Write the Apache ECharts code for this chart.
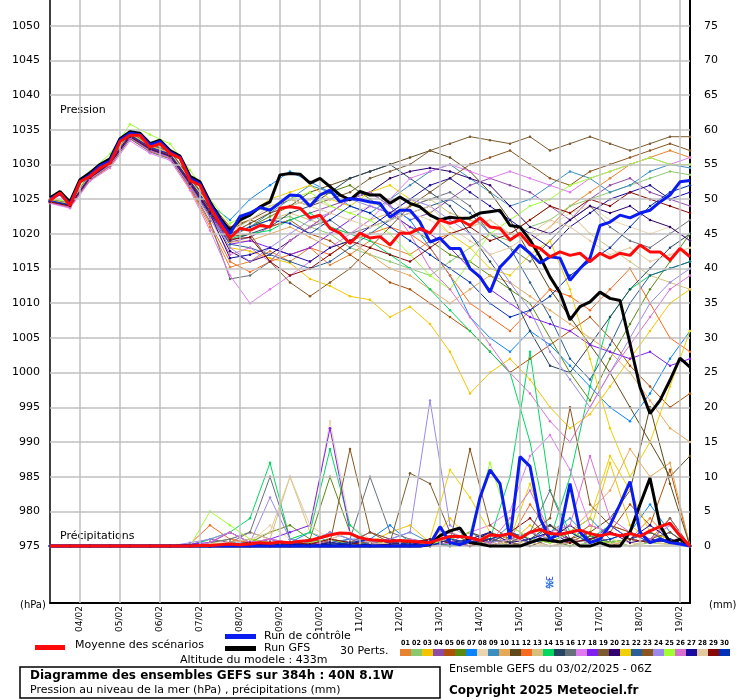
<!DOCTYPE html>
<html><head><meta charset="utf-8">
<script src="https://cdn.jsdelivr.net/npm/echarts@6/dist/echarts.min.js"></script>
<style>html,body{margin:0;padding:0;background:#fff}#c{width:740px;height:700px}</style>
</head><body><div id="c"></div>
<script>
// ---- DATA ----
const dateLabels = ["04/02","05/02","06/02","07/02","08/02","09/02","10/02","11/02","12/02","13/02","14/02","15/02","16/02","17/02","18/02","19/02"];
const dateHours = [18,42,66,90,114,138,162,186,210,234,258,282,306,330,354,378];
const pressTicks = [975,980,985,990,995,1000,1005,1010,1015,1020,1025,1030,1035,1040,1045,1050];
const precipTicks = [0,5,10,15,20,25,30,35,40,45,50,55,60,65,70,75];
const pertColors = ["#e8822e","#8bc96e","#f2c500","#8e4ca8","#b0500a","#5b8a10","#0a84ff","#e9d6b0","#3a8fc0","#e6a95a","#5e4a1a","#f86a20","#d4c07a","#00d860","#264560","#667078","#e07af0","#8020f0","#7a5a2e","#300070","#f0d000","#2a5f9a","#8a5520","#9a88ea","#a0ff30","#d870d0","#1a0aa0","#e2c9a0","#880808","#0030b8"];

// 6-hourly (65 values)
const meanPress = [1024.8,1025.9,1024.1,1027.5,1028.3,1029.5,1030.2,1033.3,1034.2,1034.2,1032.5,1033,1031.6,1030.9,1027.7,1027,1023.9,1021.5,1019.4,1020.8,1020.5,1021.2,1021,1023.7,1023.9,1023.7,1022.3,1022.7,1020.8,1020.1,1018.6,1020.1,1019.4,1019.6,1018.4,1020.1,1020.1,1020.8,1020.1,1022,1021.5,1022,1021.2,1022.3,1021,1020.8,1019.1,1020.1,1018.4,1017.9,1016.7,1017.4,1016.9,1017.2,1016,1017.2,1016.5,1017.2,1016.9,1018.4,1017.4,1017.4,1016.2,1017.9,1016.7];
const ctrlPress = [1025,1025.8,1024.3,1027.5,1028.5,1029.8,1030.5,1033.5,1034.5,1034.3,1032.8,1033.3,1031.8,1031,1028,1027.2,1024.3,1022,1020,1022.5,1023,1023.8,1023.4,1024.5,1025.6,1025.5,1024,1025.6,1026.3,1024.6,1025.1,1024.9,1024.6,1024.4,1022.4,1023.4,1023.4,1021.7,1018.8,1019.4,1017.9,1017.9,1015,1013.8,1011.6,1015.2,1016.7,1018.4,1017.2,1015.8,1016.7,1016.5,1013.3,1015,1016.5,1021.2,1021.7,1022.7,1022.3,1023,1023.4,1024.6,1025.6,1027.5,1027.7];
const gfsPress = [1025.2,1026.1,1024.6,1027.8,1028.8,1030,1030.8,1033.7,1034.7,1034.5,1033,1033.5,1032,1031.2,1028.3,1027.5,1024.6,1022.3,1020.5,1022,1022.7,1023.9,1024.6,1028.5,1028.7,1028.6,1027.3,1028,1026.8,1025.6,1024.9,1026.1,1025.6,1025.6,1024.4,1025.3,1024.4,1023.9,1022.7,1022,1022.4,1022.2,1022.3,1023,1023.2,1023.4,1021.2,1021,1019.1,1016.7,1013.8,1011.5,1007.6,1009.5,1010.2,1011.6,1010.7,1010.4,1004.2,997.9,994.1,996,998.9,1002.1,1000.8];
const meanPrecip = [0,0,0,0,0,0,0,0,0,0,0,0,0,0,0,0.1,0.1,0.2,0.3,0.2,0.3,0.5,0.4,0.6,0.5,0.7,0.8,1.2,1.6,1.9,1.8,1.2,0.9,0.8,0.7,0.8,0.7,0.6,0.5,1.0,1.4,1.4,1.2,0.8,1.6,1.5,1.8,1.1,2.0,2.4,1.8,1.7,2.0,2.3,1.8,1.5,1.8,1.5,1.8,1.4,2.2,2.8,3.3,1.5,0];
const ctrlPrecip = [0,0,0,0,0,0,0,0,0,0,0,0,0,0,0,0,0,0,0,0,0,0,0,0,0,0,0,0,0,0,0,0,0,0,0,0,0,0,0.3,2.8,0.5,0.2,0.8,7,11,9,1,12.9,11.5,4,1,2,9,2,0.5,1,3,6,9.3,2,0.5,1,0.5,0.3,0];
const gfsPrecip = [0,0,0,0,0,0,0,0,0,0,0,0,0,0,0,0,0,0,0,0,0,0,0,0,0,0,0,0,0,0,0,0,0,0,0,0,0,0,0.2,1.5,2.2,2.6,0.5,0.3,0,0,0,0,0.5,1,0.8,0.6,1,0,0,0.5,0,0,2,6,9.8,3,0.5,1,0];

// 12-hourly perturbations (33 values each)
const pertPress = [
[1024.5,1023.8,1027.8,1029.8,1033.8,1032,1031,1026.5,1021,1015.2,1016,1017.5,1016,1018,1015.5,1017,1019,1018,1017,1019,1020,1021,1022,1020,1019,1021,1024,1026,1028,1030,1031,1032,1031],
[1024.6,1024,1028.2,1030.4,1034.5,1032.8,1031.6,1027.4,1023.2,1019.8,1021,1022,1022.5,1021,1020,1018,1017,1016,1015,1014,1016,1018,1020,1019,1021,1022,1024,1025,1026,1027,1028,1029,1028.5],
[1024.9,1024.3,1028,1030,1033.9,1032.2,1031.2,1027,1022.5,1018,1017.5,1016.5,1015.8,1013.5,1012.5,1011,1010.5,1008,1009.5,1007,1003,997,1000,1002,999,995,992,994,998,1002,1006,1010,1012],
[1024.7,1024,1028.1,1030.1,1034,1032.3,1031.4,1027.3,1022.8,1018.8,1019.5,1021,1022,1023,1024,1025,1026,1024,1022,1023,1025,1027,1028,1027,1026,1024,1022,1025,1027,1028,1026,1025,1024],
[1024.8,1024.2,1028.5,1030.5,1034.4,1032.6,1031.8,1028,1024.5,1021,1022,1021,1022,1020,1019,1017,1015,1013,1012,1010,1008,1006,1003,1000,1002,1004,1006,1008,1005,1001,998,995,997],
[1024.6,1024.1,1028.3,1030.3,1034.3,1032.4,1031.5,1027.6,1023.5,1019.5,1021,1022.5,1024,1025,1026,1027,1025,1023,1021,1019,1017,1016,1014,1012,1010,1005,1000,996,1002,1007,1012,1016,1020],
[1025,1024.5,1028.7,1030.6,1034.6,1032.8,1031.9,1028,1024.2,1022,1025,1027,1029,1027.5,1026,1025,1026,1024,1022,1018,1014,1008,1005,1003,1006,1004,1001,998,995,993,997,1002,1006],
[1024.9,1024.4,1028.6,1030.7,1034.7,1033,1032,1028.2,1024.4,1020.5,1022,1023,1024,1025,1024,1023,1024,1025,1023,1022,1020,1021,1022,1020,1019,1021,1023,1024,1022,1021,1020,1021,1019],
[1024.7,1024,1028.2,1030.2,1034.2,1032.4,1031.4,1027.5,1023.6,1019.6,1021,1023,1025,1027,1026,1024,1023,1025,1027,1029,1030,1028,1026,1024,1025,1027,1029,1028,1026,1027,1029,1030,1029.5],
[1024.6,1023.9,1027.9,1029.9,1033.9,1032.1,1031.1,1027.1,1022.9,1018.8,1019,1020,1021,1019.5,1018,1019,1017,1015,1014,1012,1010,1012,1014,1013,1011,1009,1007,1005,1003,1000,996,992,990],
[1024.9,1024.3,1028.4,1030.4,1034.4,1032.7,1031.8,1027.9,1024,1020,1021.5,1023,1024,1026,1027,1028,1029,1030,1031,1032,1031,1029,1026,1022,1017,1012,1008,1004,1000,995,990,985,988],
[1024.5,1023.8,1027.7,1029.7,1033.7,1031.9,1030.9,1026.6,1021.5,1016,1014.5,1016,1017,1018,1017,1019,1020,1021,1020,1018,1014,1010,1008,1006,1009,1012,1011,1009,1012,1015,1010,1005,1003],
[1024.8,1024.2,1028.3,1030.3,1034.3,1032.5,1031.6,1027.7,1023.8,1019.8,1021,1022,1023,1022,1021,1020,1022,1023,1024,1025,1023,1022,1021,1020,1022,1024,1023,1020,1018,1016,1014,1013,1012],
[1024.7,1024.1,1028.2,1030.2,1034.1,1032.3,1031.4,1027.4,1023.4,1019.3,1020,1020.5,1022,1023,1021,1020,1019,1017,1015,1012,1009,1006,1003,1000,990,976,985,998,1008,1012,1014,1015,1016],
[1024.6,1024,1028,1030,1034,1032.2,1031.2,1027.2,1023,1019,1020,1021,1023,1024,1026,1028,1029,1030,1028,1026,1024,1020,1016,1012,1006,1001,1000,1004,1008,1012,1015,1018,1020],
[1024.5,1023.9,1027.8,1029.8,1033.7,1031.8,1030.8,1026.8,1021.8,1013.5,1014,1016,1019,1021,1022,1020,1021,1022,1024,1025,1026,1024,1020,1018,1016,1019,1022,1024,1021,1019,1018,1020,1022],
[1024.4,1023.7,1027.6,1029.5,1033.4,1031.6,1030.6,1026.3,1020.5,1014,1010,1012,1014,1016,1018,1020,1022,1025,1028,1029,1030,1029,1028,1029,1028,1027,1026,1028,1029,1030,1031,1030,1031],
[1024.8,1024.2,1028.3,1030.3,1034.3,1032.4,1031.5,1027.5,1023.3,1018.5,1019,1018,1017,1018,1020,1022,1024,1023,1021,1020,1018,1015,1012,1010,1008,1007,1006,1004,1003,1002,1003,1001,1002],
[1024.9,1024.4,1028.6,1030.6,1034.6,1032.9,1032,1028.1,1024.3,1020.6,1022,1023.5,1025,1024,1025,1026,1028,1029,1030,1032,1033,1034,1033.5,1033,1034,1032,1033,1034,1033,1032,1033,1034,1034],
[1024.7,1024.1,1028.2,1030.2,1034.2,1032.3,1031.3,1027.3,1023.1,1017.5,1016,1017,1019,1021,1023,1025,1026,1028,1029,1029.5,1029,1028,1027,1024,1021,1020,1022,1024,1023,1024,1022,1021,1019],
[1024.9,1024.3,1028.5,1030.5,1034.5,1032.7,1031.7,1027.8,1024,1020.2,1023,1025,1026,1027,1025,1024,1026,1027,1025,1023,1020,1018,1015,1014,1017,1019,1012,1002,992,985,990,998,1006],
[1024.6,1024,1028,1030,1033.9,1032.1,1031.1,1027,1022.6,1018.5,1018,1017,1016,1015,1016,1018,1020,1022,1023,1024,1025,1023,1020,1018,1013,1008,1002,999,1004,1010,1014,1015,1016],
[1024.8,1024.2,1028.4,1030.4,1034.3,1032.6,1031.6,1027.6,1023.6,1019.6,1020,1016,1013,1011,1013,1015,1018,1021,1024,1026,1028,1030,1031,1032,1030,1028,1027,1029,1030,1031,1032,1033,1032],
[1024.7,1024.1,1028.2,1030.1,1034.1,1032.3,1031.3,1027.2,1022.8,1018,1016,1018,1020,1022,1023,1025,1024,1023,1025,1024,1022,1020,1017,1013,1009,1003,999,995,1000,1005,1010,1013,1015],
[1025.1,1024.6,1029,1031.5,1035.8,1034.3,1033,1029.2,1025,1021.5,1023,1024,1025,1026,1024,1023,1022,1020,1017,1014,1012,1016,1020,1022,1024,1025,1027,1028,1029,1030,1031,1030,1030],
[1024.5,1023.9,1027.9,1029.9,1033.9,1032,1031,1026.9,1022.3,1017,1018,1016,1019,1021,1023,1025,1026,1024,1020,1015,1012,1008,1004,1000,997,993,990,995,1000,1004,1008,1012,1014],
[1024.7,1024.1,1028.1,1030.1,1034,1032.2,1031.2,1027.2,1022.9,1016.5,1017,1018,1017,1016,1018,1019,1021,1023,1025,1027,1028,1026,1024,1022,1020,1018,1021,1023,1025,1026,1027,1025,1026],
[1024.8,1024.3,1028.4,1030.4,1034.4,1032.6,1031.7,1027.8,1023.9,1020.2,1022,1024,1025,1024,1023,1022,1021,1022,1023,1024,1021,1019,1017,1018,1020,1022,1021,1019,1017,1018,1016,1017,1018],
[1024.6,1024,1028.1,1030.2,1034.1,1032.3,1031.3,1027.4,1023.2,1019.2,1019.5,1016,1014,1015,1017,1019,1018,1017,1016,1018,1020,1021,1019,1020,1022,1024,1023,1025,1024,1026,1025,1024,1023],
[1024.8,1024.2,1028.3,1030.4,1034.3,1032.5,1031.5,1027.6,1023.7,1019.9,1021,1022,1021.5,1020,1022,1024,1023,1021,1019,1017,1015,1013,1010,1008,1009,1011,1014,1016,1018,1021,1024,1026,1027]
];
const pertPrecip = [
[0,0,0,0,0,0,0,0,0.5,2,0.5,1,0.3,0,0.5,0.2,0,1,0,0.5,1,0,2,0,1,3,0.5,2,0,1,4,1,0],
[0,0,0,0,0,0,0,0,0.3,0.5,1,0.5,0,0.3,0,0.5,0,0,0.5,1,2,0.5,1,0,0.5,1,0,0.5,1,0,0.5,0.3,0],
[0,0,0,0,0,0,0,0,0,0,0.5,0,0.3,0,1,0,0.5,2,3,0.5,4,1,2,0.5,3,1,0.5,2,12,3,1,0.5,0],
[0,0,0,0,0,0,0,0.2,1,0.5,2,1,0,0.5,0,0.3,1,0,0.5,0.5,1,0,0.5,2,1,0,0.5,1,0.5,1,2,0.5,0],
[0,0,0,0,0,0,0,0,0,0.5,0,0.3,0.5,0,0.5,1,0,0.5,0,1,0.5,2,0.5,1,2,0.5,1,3,2,6,3,11,0],
[0,0,0,0,0,0,0,0,0.5,1,0.5,2,3,1,10,2,0.5,0,0.5,1,0,0.5,1,0.5,2,1,0,1.5,0.5,1,2,0.5,0],
[0,0,0,0,0,0,0,0,0,0.5,0.3,1,0.5,2,0.5,1,1,3,0.5,0,1,0.5,2,1,0.5,3,2,4,1,2,6,2,0],
[0,0,0,0,0,0,0,0,0.3,1,0.5,3,1,2,18,3,1,0.5,0.3,1,0,0.5,1,0.5,0,1,0.5,0,1,0.5,0,0.3,0],
[0,0,0,0,0,0,0,0,0,0.2,0.5,0,0.3,1,0.5,0,0.5,1,2,0.5,1,2,0.5,3,1,2,4,1,3,1,0.5,2,0],
[0,0,0,0,0,0,0,0,0,0.3,0,0.5,0,0.3,1,0.5,0,0.5,1,0,0.5,1,2,0.5,1,3,2,5,8,14,10,12,0],
[0,0,0,0,0,0,0,0,0,0.5,0,0.3,0.5,0,1,0.5,0.5,1,0.3,0.5,1,2,1,0.5,2,3,1,2,4,8,20,9,0],
[0,0,0,0,0,0,0,0.3,3,1,0.5,0.5,0,1,0.5,0,1,0.5,0,0.5,1,0.5,0,1,6,2,1,0.5,3,2,1,4,0],
[0,0,0,0,0,0,0,0,0.5,1,2,1,10,2,1,0.5,0,1,0.5,0,0.5,1,0.3,0.5,1,0,0.5,1,0.5,0,1,0.5,0],
[0,0,0,0,0,0,0,0,1,2,4,12,1,2,14,3,0.5,0,0.5,1,0,0.5,1,10,28,8,2,1,3,1,0.5,1,0],
[0,0,0,0,0,0,0,0,0,0,0.3,0,0.5,0,0.3,0.5,0,0.3,0,0.5,0.3,1,0.5,2,1,3,1,0.5,2,1,0.5,1,0],
[0,0,0,0,0,0,0,0,0.5,1,2,10,1,0.5,2,1,10,2,1,0.5,0,0.5,1,0.5,2,8,1,0.5,2,1,0.5,4,0],
[0,0,0,0,0,0,0,0,0,0.3,0.5,1,0.5,0.3,1,0.5,2,1,0.5,0,0.5,2,3,5,13,16,11,3,2,1,0.5,1,0],
[0,0,0,0,0,0,0,0.3,0.5,2,0.5,1,2,3,17,2,0.5,1,0,0.5,1,0.5,0,1,0.5,2,1,0.5,3,1,0.5,1,0],
[0,0,0,0,0,0,0,0,0,0.3,0,0.5,0.3,0,1,0.5,2,0.5,10.5,9,2,0.5,1,0.5,0,1,0.5,2,0.5,1,2,1,0],
[0,0,0,0,0,0,0,0,0,0.3,0,0.5,0,0.3,0.5,0,0.3,1,0.5,0,1,0.5,2,1,0.5,1,3,1,2,0.5,1,0.5,0],
[0,0,0,0,0,0,0,0,0,0,0.3,0,0.5,0,0.3,0.5,1,0,0.5,1,11,7,2,1,9,0.5,2,4,13,8,2,1,0],
[0,0,0,0,0,0,0,0,0,0.3,0.5,0,0.3,0.5,1,0,0.5,0.3,1,0.5,0,1,0.5,2,1,0.5,2,1,0.5,1,2,0.5,0],
[0,0,0,0,0,0,0,0,0,0.5,1,0.5,0,1,0.5,14,2,1,0.5,1,0.5,14,3,1,2,4,20,6,3,2,1,2,0],
[0,0,0,0,0,0,0,0.5,1,2,0.5,7,1,0.5,2,1,0.5,1,2,21,3,1,0.5,1,2,1,0.5,1,2,1,0.5,0.3,0],
[0,0,0,0,0,0,0,0,5,3,1,0.5,0,0.5,1,0.3,0,0.5,1,0.3,1,2,12,3,1,0.5,2,1,0.5,1,0.5,0.3,0],
[0,0,0,0,0,0,0,0,0.5,2,0.5,1,0.5,0,1,2,0.5,0,1,0.5,2,1,0.5,4,8,2,3,13,4,2,1,3,0],
[0,0,0,0,0,0,0,0,0,0.3,0,0.5,0.3,0,0.5,0.3,1,0.5,0,1,0.5,1,2,0.5,1,2,0.5,1,2,1,3,1,0],
[0,0,0,0,0,0,0,0,0.3,0.5,1,2,10,3,1,2,0.5,0.3,0,0.5,1,0.5,0,1,0.5,0,1,0.5,0.3,1,0.5,0.3,0],
[0,0,0,0,0,0,0,0,0,0.3,0.5,0,0.5,0.3,1,0.5,0,0.3,0.5,1,0.5,0,1,2,4,1,0.5,1,2,1,0.5,1,0],
[0,0,0,0,0,0,0,0,0,0.2,0.3,0,0.5,0,0.3,0.5,1,0.5,0.3,0,1,0.5,1,2,0.5,1,2,0.5,1,2,0.5,1,0]
];

// ---- CHART ----
const FONT = 'DejaVu Sans';
const six = a => a.map((v,i)=>[i*6, v]);
const twelve = a => a.map((v,i)=>[i*12, v]);
const series = [];
series.push({type:'line', data:[], silent:true,
  markLine:{silent:true, symbol:'none', label:{show:false}, animation:false,
    lineStyle:{color:'#c0c0c0', width:1.5, type:'solid'},
    data: dateHours.map(h=>({xAxis:h})).concat(pressTicks.map(p=>({yAxis:p})))}});
pertPress.forEach((arr,k)=>{
  series.push({type:'line', data:twelve(arr), yAxisIndex:0, symbol:'circle', symbolSize:2.5,
    lineStyle:{width:1, color:pertColors[k]}, itemStyle:{color:pertColors[k]}, z:2, animation:false});
});
pertPrecip.forEach((arr,k)=>{
  series.push({type:'line', data:twelve(arr), yAxisIndex:1, symbol:'circle', symbolSize:2.5,
    lineStyle:{width:1, color:pertColors[k]}, itemStyle:{color:pertColors[k]}, z:2, animation:false});
});
const bold = (d, ax, c, z)=>({type:'line', data:six(d), yAxisIndex:ax, symbol:'none', lineStyle:{width:3, color:c}, z:z, animation:false});
series.push(bold(gfsPress,0,'#000',5), bold(gfsPrecip,1,'#000',5));
series.push(bold(ctrlPress,0,'#0a1cf0',6), bold(ctrlPrecip,1,'#0a1cf0',6));
series.push(bold(meanPress,0,'#ff0a0a',7), bold(meanPrecip,1,'#ff0a0a',7));

const txt = (x,y,t,o={}) => ({type:'text', left:x, top:y, style:Object.assign({text:t, font:'12px '+FONT, fill:'#000'}, o)});
const graphics = [
  {type:'rect', shape:{x:35,y:645,width:30,height:5}, style:{fill:'#ff0a0a'}},
  txt(75,640,'Moyenne des scénarios',{font:'11px '+FONT}),
  {type:'rect', shape:{x:225,y:634,width:31,height:5}, style:{fill:'#0a1cf0'}},
  txt(264,631,'Run de contrôle',{font:'11px '+FONT}),
  {type:'rect', shape:{x:225,y:646,width:31,height:5}, style:{fill:'#000'}},
  txt(264,643,'Run GFS',{font:'11px '+FONT}),
  txt(340,646,'30 Perts.',{font:'11px '+FONT}),
  txt(180,655,'Altitude du modele : 433m',{font:'11px '+FONT}),
  {type:'rect', shape:{x:20,y:667,width:420,height:31}, style:{fill:'none', stroke:'#000', lineWidth:1.5}},
  txt(30,670,'Diagramme des ensembles GEFS sur 384h : 40N 8.1W',{font:'bold 12px '+FONT}),
  txt(30,685,'Pression au niveau de la mer (hPa) , précipitations (mm)',{font:'11px '+FONT}),
  txt(449,664,'Ensemble GEFS du 03/02/2025 - 06Z',{font:'11px '+FONT}),
  txt(449,685,'Copyright 2025 Meteociel.fr',{font:'bold 12px '+FONT}),
  txt(20,600,'(hPa)',{font:'10px '+FONT}),
  txt(709,600,'(mm)',{font:'10px '+FONT}),
  txt(60,105,'Pression',{font:'11px '+FONT}),
  txt(60,531,'Précipitations',{font:'11px '+FONT}),
  txt(544,579,'❄',{font:'13px '+FONT, fill:'#5ab4f0'}),
  {type:'text', x:552, y:576, rotation:-Math.PI/2, style:{text:'3%', font:'8px '+FONT, fill:'#1030d0'}}
];
pertColors.forEach((c,k)=>{
  graphics.push({type:'rect', shape:{x:400+k*11,y:649,width:11,height:7}, style:{fill:c}});
  graphics.push({type:'text', x:405.5+k*11, y:640, style:{text:String(k+1).padStart(2,'0'), font:'bold 7px "DejaVu Sans Condensed", '+FONT, fill:'#000', align:'center'}});
});

const chart = echarts.init(document.getElementById('c'));
chart.setOption({
  animation:false,
  grid:{left:50, right:50, top:0, bottom:97, show:false},
  xAxis:{type:'value', min:0, max:384,
    axisLine:{show:true, lineStyle:{color:'#000', width:2}, onZero:false},
    axisTick:{show:false}, splitLine:{show:false},
    axisLabel:{customValues:dateHours, rotate:90, margin:3, formatter:v=>dateLabels[dateHours.indexOf(v)], fontFamily:FONT, fontSize:9, color:'#000'}},
  yAxis:[
    {type:'value', min:966.8, max:1053.7, axisLine:{show:true, lineStyle:{color:'#000', width:1.5}}, axisTick:{show:false}, splitLine:{show:false},
     axisLabel:{customValues:pressTicks, formatter:v=>String(v), fontFamily:FONT, fontSize:11, color:'#000', margin:10}},
    {type:'value', min:-8.2, max:78.7, position:'right', axisLine:{show:true, lineStyle:{color:'#000', width:2}}, axisTick:{show:false}, splitLine:{show:false},
     axisLabel:{customValues:precipTicks, formatter:v=>String(v), fontFamily:FONT, fontSize:11, color:'#000', margin:14}}
  ],
  series:series,
  graphic:graphics
});
</script></body></html>
